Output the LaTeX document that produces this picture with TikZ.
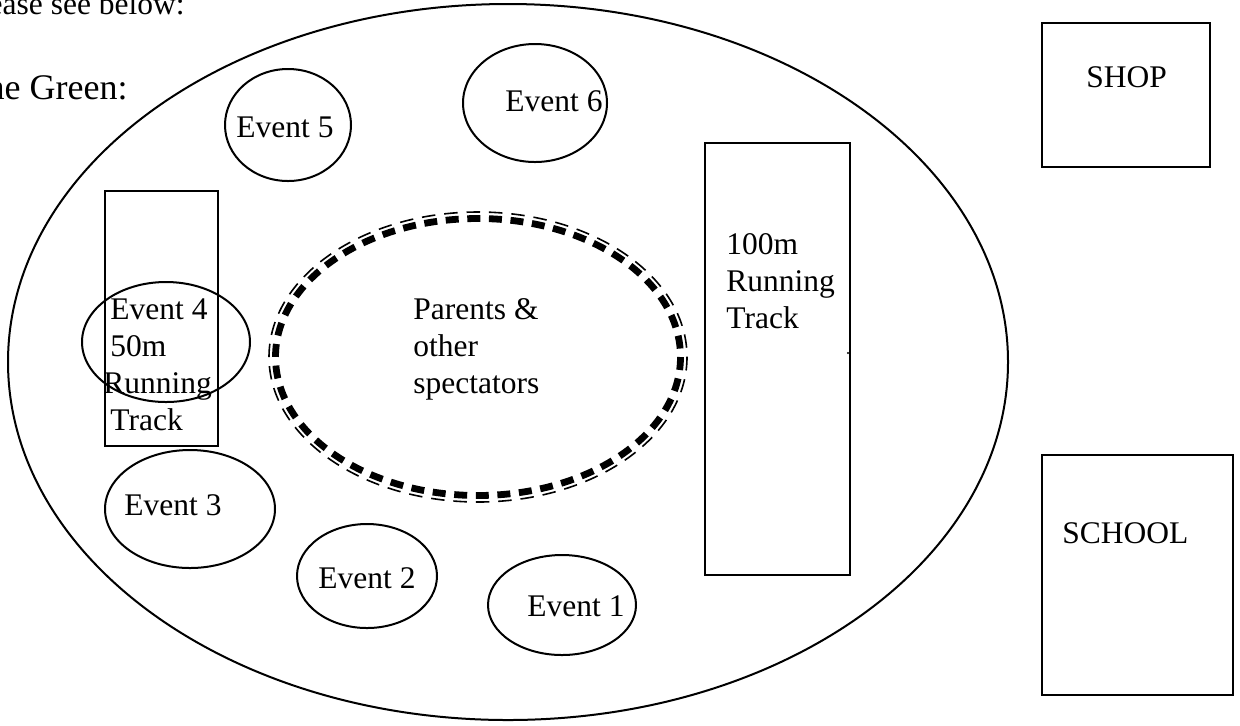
\documentclass[tikz,border=0pt]{standalone}
\usepackage{fontspec}
\setmainfont{Liberation Serif}
\begin{document}
\begin{tikzpicture}[x=0.5pt,y=-0.5pt,
  lbl/.style={inner sep=0pt, anchor=base west, font=\fontsize{15.75}{18.5}\selectfont},
  outline/.style={draw=black, line width=1pt},
  crowdthick/.style={draw=black, line width=3.4pt, dash pattern=on 6.5pt off 4.31pt},
  crowdthin/.style={draw=black, line width=0.8pt, dash pattern=on 6.74pt off 4.47pt}]
\useasboundingbox (0,0) rectangle (1240,725);
% heading texts (cut at the left edge)
\node[lbl, anchor=base east] (please) at (185,14) {Please see below:};
\node[lbl, anchor=base east, font=\fontsize{18}{22}\selectfont] (green) at (128,99) {The Green:};
% the green
\draw[outline] (508,362) ellipse [x radius=500, y radius=358];
% events
\draw[outline] (288,125) ellipse [x radius=63, y radius=56];
\node[lbl] (ev5) at (236,137) {Event 5};
\draw[outline] (535,103) ellipse [x radius=72, y radius=59];
\node[lbl] (ev6) at (505,111) {Event 6};
% 50m track and event 4
\draw[outline] (105,191) rectangle (218,446);
\draw[outline] (166,342) ellipse [x radius=84, y radius=60];
\node[lbl] (ev4) at (110,319) {\begin{tabular}[t]{@{}l@{}}Event 4\\50m\\\hspace*{-3.5pt}Running\\Track\end{tabular}};
% spectators
\draw[crowdthick] (478,357) ellipse [x radius=202.5, y radius=138.5];
\draw[crowdthin] (478,357) ellipse [x radius=209, y radius=145];
\node[lbl] (parents) at (413,319) {\begin{tabular}[t]{@{}l@{}}Parents \&\\other\\spectators\end{tabular}};
% 100m track
\draw[outline] (705,143) rectangle (850,575);
\fill (848,353) circle [radius=1.2];
\node[lbl] (track100) at (726,254) {\begin{tabular}[t]{@{}l@{}}100m\\Running\\Track\end{tabular}};
% lower events
\draw[outline] (190,509) ellipse [x radius=85, y radius=59];
\node[lbl] (ev3) at (124,515) {Event 3};
\draw[outline] (367,576) ellipse [x radius=70, y radius=52];
\node[lbl] (ev2) at (318,588) {Event 2};
\draw[outline] (562,605) ellipse [x radius=74, y radius=50];
\node[lbl] (ev1) at (527,616) {Event 1};
% buildings
\draw[outline] (1042,23) rectangle (1210,167);
\node[lbl] (shop) at (1086,87) {SHOP};
\draw[outline] (1042,455) rectangle (1233,695);
\node[lbl] (school) at (1062,543) {SCHOOL};
\end{tikzpicture}
\end{document}
